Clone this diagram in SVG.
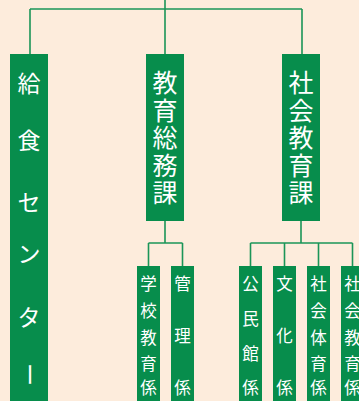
<svg xmlns="http://www.w3.org/2000/svg" width="359" height="401" viewBox="0 0 359 401">
<style>
.box{fill:#078d4c}
.ln{fill:none;stroke:#1b9558;stroke-width:1.6}
.t{fill:#ffffff;font-family:"Noto Sans CJK JP","Noto Sans",sans-serif;text-anchor:middle}
.l{font-size:23px}
.m{font-size:25px}
.s{font-size:16.5px}
</style>
<rect width="359" height="401" fill="#fdecdc"/>
<g id="connectors">
<path class="ln" d="M165,0V54M30,9H302M30,9V54M302,9V54"/>
<path class="ln" d="M165,221V243M148.5,243H182.5M148.5,243V266M182.5,243V266"/>
<path class="ln" d="M301,221V243M250.5,243H352.5M250.5,243V266M284.5,243V266M318.5,243V266M352.5,243V266"/>
</g>
<g id="kyushoku">
<rect class="box" x="10" y="54" width="38" height="347"/>
<text class="t l" x="29" y="91.5">給</text>
<text class="t l" x="29" y="148.5">食</text>
<text class="t l" x="29" y="210.5">セ</text>
<text class="t l" x="29" y="261.5">ン</text>
<text class="t l" x="29" y="325.5">タ</text>
<text class="t l" x="29" y="383" transform="rotate(90 29 374.5)">ー</text>
</g>
<g id="kyoiku-somu">
<rect class="box" x="146" y="54" width="38" height="167"/>
<text class="t m" x="165" y="91.5">教</text>
<text class="t m" x="165" y="119.5">育</text>
<text class="t m" x="165" y="146.5">総</text>
<text class="t m" x="165" y="174.5">務</text>
<text class="t m" x="165" y="201.5">課</text>
</g>
<g id="shakai-kyoiku">
<rect class="box" x="282" y="54" width="38" height="167"/>
<text class="t m" x="301" y="92">社</text>
<text class="t m" x="301" y="119.5">会</text>
<text class="t m" x="301" y="147">教</text>
<text class="t m" x="301" y="174.5">育</text>
<text class="t m" x="301" y="201.5">課</text>
</g>
<g id="gakko-kyoiku">
<rect class="box" x="137" y="266" width="23" height="135"/>
<text class="t s" x="148.5" y="289.5">学</text>
<text class="t s" x="148.5" y="316.5">校</text>
<text class="t s" x="148.5" y="344">教</text>
<text class="t s" x="148.5" y="369.5">育</text>
<text class="t s" x="148.5" y="393.5">係</text>
</g>
<g id="kanri">
<rect class="box" x="171" y="266" width="23" height="135"/>
<text class="t s" x="182.5" y="289.5">管</text>
<text class="t s" x="182.5" y="341.5">理</text>
<text class="t s" x="182.5" y="393.5">係</text>
</g>
<g id="kominkan">
<rect class="box" x="239" y="266" width="23" height="135"/>
<text class="t s" x="250.5" y="289.5">公</text>
<text class="t s" x="250.5" y="324.5">民</text>
<text class="t s" x="250.5" y="359.5">館</text>
<text class="t s" x="250.5" y="393.5">係</text>
</g>
<g id="bunka">
<rect class="box" x="273" y="266" width="23" height="135"/>
<text class="t s" x="284.5" y="289.5">文</text>
<text class="t s" x="284.5" y="341.5">化</text>
<text class="t s" x="284.5" y="393.5">係</text>
</g>
<g id="shakai-taiiku">
<rect class="box" x="307" y="266" width="23" height="135"/>
<text class="t s" x="318.5" y="289.5">社</text>
<text class="t s" x="318.5" y="316.5">会</text>
<text class="t s" x="318.5" y="344">体</text>
<text class="t s" x="318.5" y="369.5">育</text>
<text class="t s" x="318.5" y="393.5">係</text>
</g>
<g id="shakai-kyoiku-kakari">
<rect class="box" x="341" y="266" width="23" height="135"/>
<text class="t s" x="352.5" y="289.5">社</text>
<text class="t s" x="352.5" y="316.5">会</text>
<text class="t s" x="352.5" y="344">教</text>
<text class="t s" x="352.5" y="369.5">育</text>
<text class="t s" x="352.5" y="393.5">係</text>
</g>
</svg>
